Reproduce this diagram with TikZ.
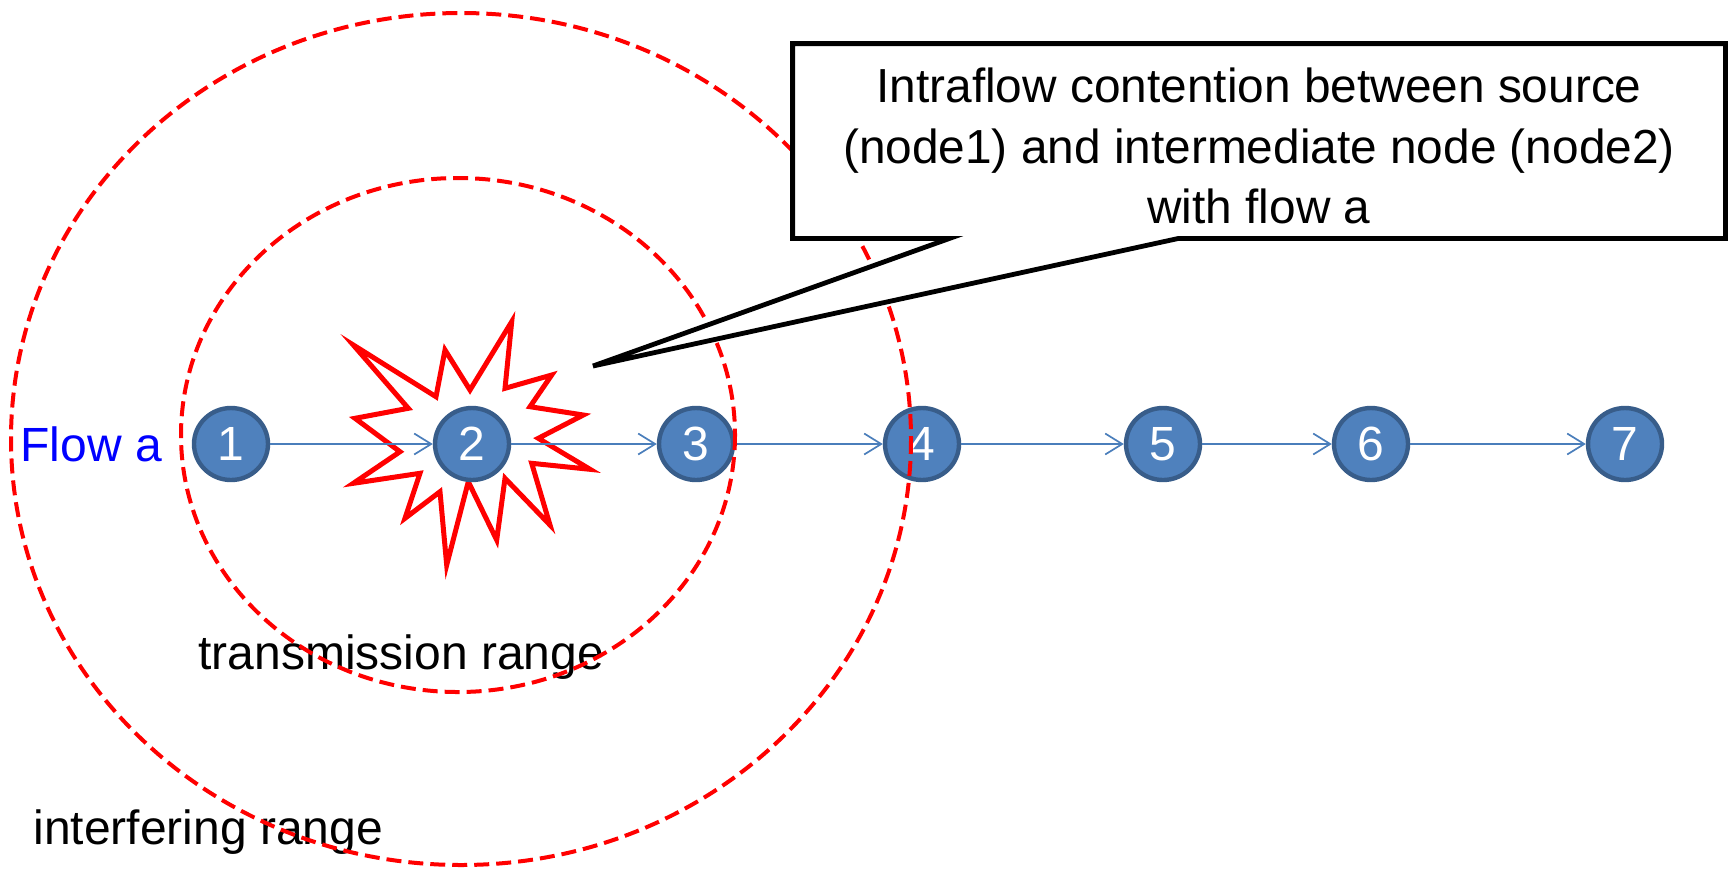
\documentclass[tikz,border=0pt]{standalone}
\usepackage{fontspec}
\setmainfont{Liberation Sans}
\usetikzlibrary{shapes.geometric,arrows.meta,calc}
\definecolor{nodefill}{HTML}{4F81BD}
\definecolor{nodeedge}{HTML}{385D8A}
\definecolor{linkblue}{HTML}{4A7EBB}

\begin{document}
\begin{tikzpicture}[x=0.5pt,y=-0.5pt,
  station/.style={ellipse, fill=nodefill, draw=nodeedge, line width=2.2pt,
    minimum width=37pt, minimum height=36pt, inner sep=0pt, text=white,
    font=\fontsize{24}{26}\selectfont},
  link/.style={draw=linkblue, line width=0.85pt,
    -{Straight Barb[length=8.5pt,width=10.5pt]}},
  radiorange/.style={draw=red, line width=2pt, dash pattern=on 7.5pt off 3.5pt},
  caption/.style={font=\fontsize{24}{28}\selectfont, inner sep=0pt},
  notebox/.style={rectangle, minimum width=466pt, minimum height=97pt,
    inner sep=0pt},
  notetext/.style={align=center, inner sep=0pt,
    font=\fontsize{23.9}{30.3}\selectfont},
]
\useasboundingbox (0,0) rectangle (1728,869);

% collision burst around node 2
\draw[red, line width=2.5pt, fill=white, line join=miter]
  (353.3,345) -- (436,396.7) -- (445,350) -- (470,390) -- (511.7,321.7)
  -- (505,388.3) -- (551.7,375) -- (530,406.7) -- (583.3,415)
  -- (538.3,438.3) -- (590,469.3) -- (531.7,463.3) -- (550,525)
  -- (505,478.3) -- (496.7,540) -- (468.3,481.7) -- (446.7,565)
  -- (440,491.7) -- (405,518.3) -- (420,473.3) -- (353.3,483.3)
  -- (400,451.7) -- (355,418.3) -- (408.3,408.3) -- cycle;

% relay chain
\node[station] (n1) at (231,444) {1};
\node[station] (n2) at (472,444) {2};
\node[station] (n3) at (696,444) {3};
\node[station] (n4) at (922,444) {4};
\node[station] (n5) at (1163,444) {5};
\node[station] (n6) at (1371,444) {6};
\node[station] (n7) at (1625,444) {7};

\draw[link] (n1) -- (n2);
\draw[link] (n2) -- (n3);
\draw[link] (n3) -- (n4);
\draw[link] (n4) -- (n5);
\draw[link] (n5) -- (n6);
\draw[link] (n6) -- (n7);

% labels
\node[caption, text=blue, anchor=west] (flow) at (20,444) {Flow a};
\node[caption, anchor=west] (tx) at (198,657) {transmission range};
\node[caption, anchor=west] (ifr) at (33,832) {interfering range};

% interfering and transmission ranges
\draw[radiorange] (461,439) ellipse [x radius=450, y radius=426];
\draw[radiorange] (458,435) ellipse [x radius=277, y radius=257];

% callout frame with its pointer
\node[notebox] (note) at (1259,141) {};
\coordinate (tip) at (593,366);
\draw[line width=2.4pt, fill=white, line join=miter]
  (note.north west) -- (note.north east) -- (note.south east)
  -- ($(note.south west)+(386,0)$) -- (tip)
  -- ($(note.south west)+(157,0)$) -- (note.south west) -- cycle;
\node[notetext] (notetxt) at (1259,146)
  {Intraflow contention between source\\(node1) and intermediate node (node2)\\with flow a};
\end{tikzpicture}
\end{document}
